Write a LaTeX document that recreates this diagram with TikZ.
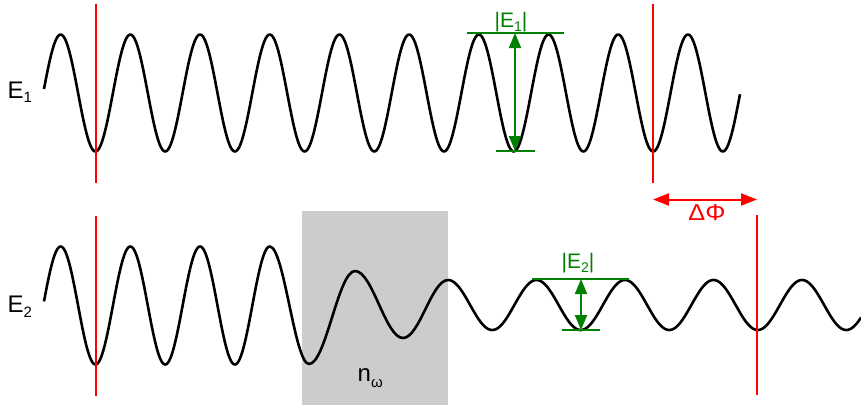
\documentclass[tikz,border=0pt]{standalone}
\usepackage{fontspec}
\setmainfont{Liberation Sans}
\usetikzlibrary{arrows.meta}
\definecolor{grn}{RGB}{0,128,0}
\definecolor{boxgray}{RGB}{204,204,204}
\newcommand{\lbsub}[3][4.5pt]{\raisebox{-#1}{\fontsize{#2}{#2}\selectfont #3}}
\begin{document}
\begin{tikzpicture}[x=1pt,y=-1pt,
  wave/.style={line width=2.6pt, line join=round},
  redline/.style={red, line width=2pt},
  grnline/.style={grn, line width=2pt},
  rtip/.style={{Triangle[length=16pt,width=12pt]}-{Triangle[length=16pt,width=12pt]}},
  gtip/.style={{Triangle[length=15pt,width=12pt]}-{Triangle[length=15pt,width=12pt]}},
  lbl/.style={inner sep=0pt, font=\fontsize{21}{25}\selectfont},
  biglbl/.style={inner sep=0pt, font=\fontsize{24}{28}\selectfont}]
\useasboundingbox (0,0) rectangle (861,405);
% medium box
\fill[boxgray] (302,211) rectangle (448,405);
\node[biglbl, anchor=base west] (nw) at (357.5,381) {n\lbsub[6pt]{15}{ω}};
% top wave E1
\draw[wave] plot[domain=44:740,samples=500] (\x,{93+58.5*cos(5.164993*(\x-95.5))});
% bottom wave E2
\draw[wave] plot[domain=44:269.75,samples=250] (\x,{305.5+59*cos(5.164993*(\x-95.5))})
  .. controls (284.05,246.5) and (294.70,364) .. (309,364)
  .. controls (325.75,364) and (338.25,271) .. (355,271)
  .. controls (372.48,271) and (385.52,338) .. (403,338)
  .. controls (419.39,338) and (431.61,280) .. (448,280)
  -- plot[domain=448:861,samples=400] (\x,{305-25*cos(4.067797*(\x-448))});
% labels
\node[biglbl, anchor=base west] (lE1) at (7.5,98) {E\lbsub[4pt]{15}{1}};
\node[biglbl, anchor=base west] (lE2) at (7.5,312) {E\lbsub[5pt]{15}{2}};
% red reference lines
\coordinate (r1a) at (95.5,4);   \coordinate (r1b) at (95.5,183);
\coordinate (r2a) at (653,4);    \coordinate (r2b) at (653,183);
\coordinate (r3a) at (95.5,216); \coordinate (r3b) at (95.5,396);
\coordinate (r4a) at (757,215);  \coordinate (r4b) at (757,395);
\draw[redline] (r1a) -- (r1b);
\draw[redline] (r2a) -- (r2b);
\draw[redline] (r3a) -- (r3b);
\draw[redline] (r4a) -- (r4b);
% phase shift
\coordinate (dpa) at (653,199.5); \coordinate (dpb) at (757,199.5);
\draw[redline, rtip] (dpa) -- (dpb);
\node[inner sep=0pt, red, anchor=base, font=\fontsize{23}{27}\selectfont] (dphi) at (707,220) {\scalebox{1.1}[1]{ΔΦ}};
% amplitude E1
\coordinate (g1a) at (467,33);  \coordinate (g1b) at (564,33);
\coordinate (g1c) at (496,151); \coordinate (g1d) at (535,151);
\coordinate (g1t) at (515,33);  \coordinate (g1u) at (515,151);
\draw[grnline] (g1a) -- (g1b);
\draw[grnline] (g1c) -- (g1d);
\draw[grnline, gtip] (g1t) -- (g1u);
\node[lbl, grn, anchor=base] (aE1) at (511,27) {|E\lbsub[4pt]{14}{1}|};
% amplitude E2
\coordinate (g2a) at (532,279); \coordinate (g2b) at (629,279);
\coordinate (g2c) at (562,330); \coordinate (g2d) at (600,330);
\coordinate (g2t) at (581,279); \coordinate (g2u) at (581,330);
\draw[grnline] (g2a) -- (g2b);
\draw[grnline] (g2c) -- (g2d);
\draw[grnline, gtip] (g2t) -- (g2u);
\node[lbl, grn, anchor=base] (aE2) at (578,268) {|E\lbsub[4.5pt]{14}{2}|};
\end{tikzpicture}
\end{document}
